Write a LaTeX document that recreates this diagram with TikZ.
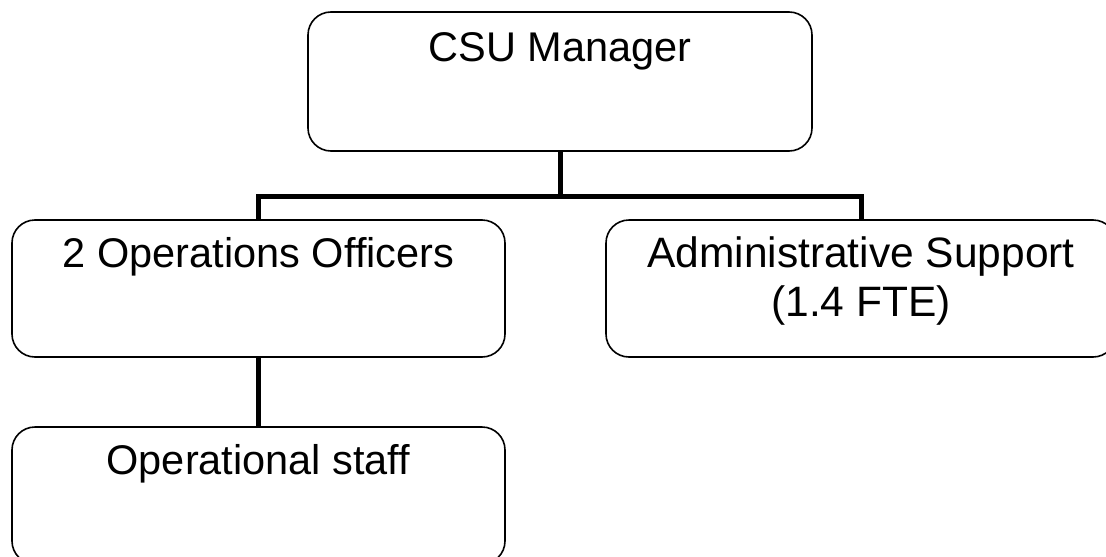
\documentclass[tikz,border=0pt]{standalone}
\usepackage{fontspec}
\setmainfont{Liberation Sans}
\begin{document}
\begin{tikzpicture}[x=1pt,y=1pt,
  orgbox/.style={draw=black, line width=1.6pt, rounded corners=23pt, rectangle, inner sep=0pt},
  lbl/.style={font=\fontsize{41.5}{49}\selectfont, anchor=base, inner sep=0pt, align=center},
  lblb/.style={lbl, font=\fontsize{42.5}{49}\selectfont},
  conn/.style={draw=black, line width=5pt}]
\useasboundingbox (0,0) rectangle (1106,-557);
\clip (0,0) rectangle (1106,-557);
\fill[white] (0,0) rectangle (1106,-557);
\node[orgbox, minimum width=504pt, minimum height=139pt] (csu) at (560,-81.5) {};
\node[orgbox, minimum width=493pt, minimum height=137pt] (ops) at (258.5,-288.5) {};
\node[orgbox, minimum width=510pt, minimum height=137pt] (adm) at (861,-288.5) {};
\node[orgbox, minimum width=493pt, minimum height=137pt] (stf) at (258.5,-495.5) {};
\node[lbl] (csut) at ([yshift=-50pt]csu.north) {CSU Manager};
\node[lbl] (opst) at ([yshift=-48pt]ops.north) {2 Operations Officers};
\node[lblb] (admt) at ([yshift=-48pt]adm.north) {Administrative Support};
\node[lblb] (admt2) at ([yshift=-97pt]adm.north) {(1.4 FTE)};
\node[lbl] (stft) at ([yshift=-48pt]stf.north) {Operational staff};
\coordinate (j) at ([yshift=-45pt]csu.south);
\draw[conn] (csu.south) -- (j);
\draw[conn] (ops.north) |- (j) -| (adm.north);
\draw[conn] (ops.south) -- (stf.north);
\end{tikzpicture}
\end{document}
